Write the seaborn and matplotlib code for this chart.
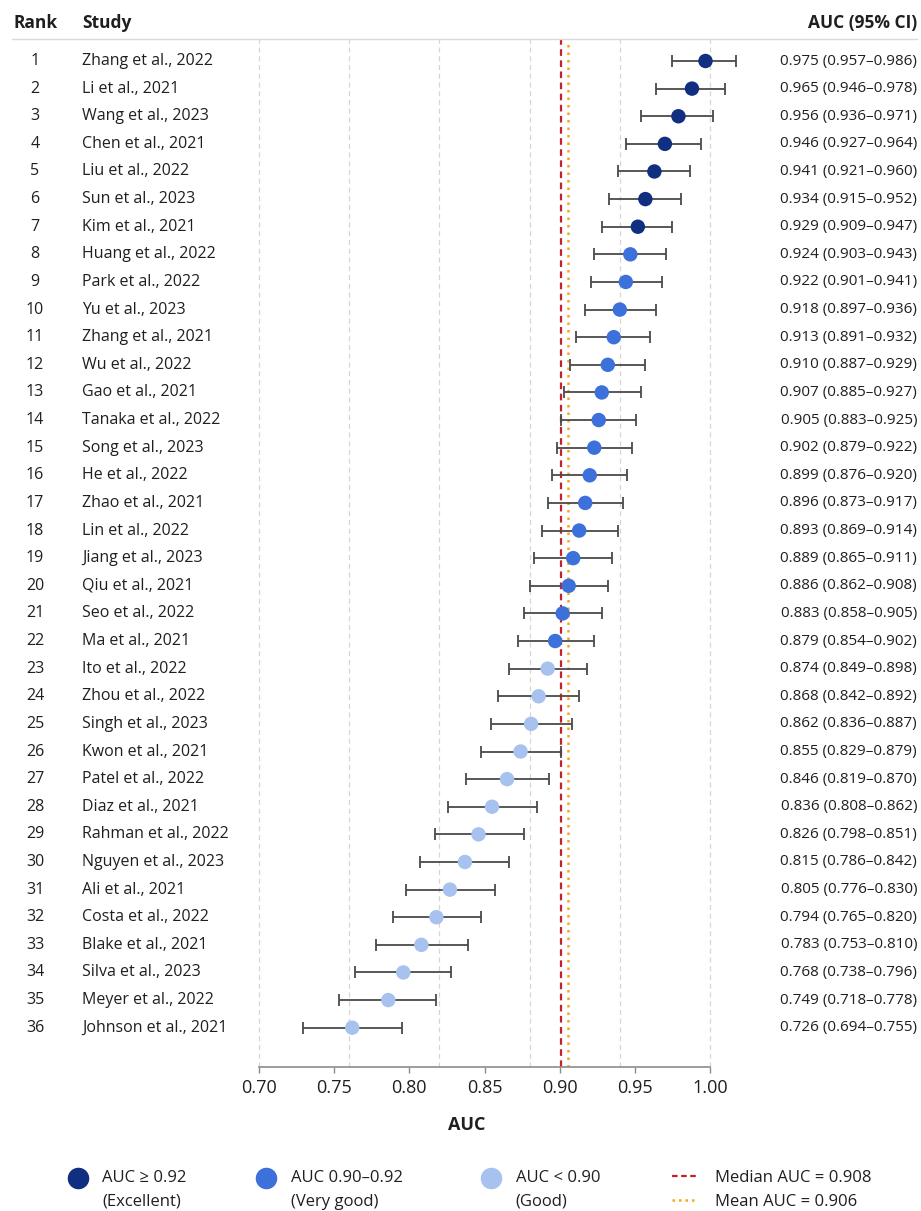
import numpy as np
import pandas as pd
import matplotlib
matplotlib.use("Agg")
import matplotlib.pyplot as plt
import matplotlib.transforms as mtransforms
from matplotlib.lines import Line2D
from matplotlib.legend_handler import HandlerLine2D
import seaborn as sns

# ---------------- data ----------------
studies = ["Zhang et al., 2022", "Li et al., 2021", "Wang et al., 2023", "Chen et al., 2021",
           "Liu et al., 2022", "Sun et al., 2023", "Kim et al., 2021", "Huang et al., 2022",
           "Park et al., 2022", "Yu et al., 2023", "Zhang et al., 2021", "Wu et al., 2022",
           "Gao et al., 2021", "Tanaka et al., 2022", "Song et al., 2023", "He et al., 2022",
           "Zhao et al., 2021", "Lin et al., 2022", "Jiang et al., 2023", "Qiu et al., 2021",
           "Seo et al., 2022", "Ma et al., 2021", "Ito et al., 2022", "Zhou et al., 2022",
           "Singh et al., 2023", "Kwon et al., 2021", "Patel et al., 2022", "Diaz et al., 2021",
           "Rahman et al., 2022", "Nguyen et al., 2023", "Ali et al., 2021", "Costa et al., 2022",
           "Blake et al., 2021", "Silva et al., 2023", "Meyer et al., 2022", "Johnson et al., 2021"]

# printed AUC and 95% CI (right-hand column)
auc = [0.975, 0.965, 0.956, 0.946, 0.941, 0.934, 0.929, 0.924, 0.922, 0.918, 0.913, 0.910,
       0.907, 0.905, 0.902, 0.899, 0.896, 0.893, 0.889, 0.886, 0.883, 0.879, 0.874, 0.868,
       0.862, 0.855, 0.846, 0.836, 0.826, 0.815, 0.805, 0.794, 0.783, 0.768, 0.749, 0.726]
ci_lo = [0.957, 0.946, 0.936, 0.927, 0.921, 0.915, 0.909, 0.903, 0.901, 0.897, 0.891, 0.887,
         0.885, 0.883, 0.879, 0.876, 0.873, 0.869, 0.865, 0.862, 0.858, 0.854, 0.849, 0.842,
         0.836, 0.829, 0.819, 0.808, 0.798, 0.786, 0.776, 0.765, 0.753, 0.738, 0.718, 0.694]
ci_hi = [0.986, 0.978, 0.971, 0.964, 0.960, 0.952, 0.947, 0.943, 0.941, 0.936, 0.932, 0.929,
         0.927, 0.925, 0.922, 0.920, 0.917, 0.914, 0.911, 0.908, 0.905, 0.902, 0.898, 0.892,
         0.887, 0.879, 0.870, 0.862, 0.851, 0.842, 0.830, 0.820, 0.810, 0.796, 0.778, 0.755]

# marker and whisker positions as drawn on the AUC axis
point_drawn = [0.997, 0.988, 0.979, 0.970, 0.963, 0.957, 0.952, 0.947, 0.944, 0.940, 0.936, 0.932,
               0.928, 0.926, 0.923, 0.920, 0.917, 0.913, 0.909, 0.906, 0.902, 0.897, 0.892, 0.886,
               0.881, 0.874, 0.865, 0.855, 0.846, 0.837, 0.827, 0.818, 0.808, 0.796, 0.786, 0.762]
lo_drawn = [0.975, 0.964, 0.954, 0.944, 0.939, 0.933, 0.928, 0.923, 0.921, 0.917, 0.911, 0.907,
            0.903, 0.901, 0.898, 0.895, 0.892, 0.888, 0.883, 0.880, 0.876, 0.872, 0.866, 0.859,
            0.854, 0.848, 0.838, 0.826, 0.817, 0.807, 0.798, 0.789, 0.778, 0.764, 0.753, 0.729]
hi_drawn = [1.017, 1.010, 1.002, 0.994, 0.987, 0.981, 0.975, 0.971, 0.968, 0.964, 0.960, 0.957,
            0.954, 0.951, 0.948, 0.945, 0.942, 0.939, 0.935, 0.932, 0.928, 0.923, 0.918, 0.913,
            0.908, 0.901, 0.893, 0.885, 0.876, 0.866, 0.857, 0.848, 0.839, 0.828, 0.818, 0.795]

tier = ["Excellent"] * 7 + ["Very good"] * 15 + ["Good"] * 14

median_auc = 0.908
mean_auc = 0.906
median_line_drawn = 0.901
mean_line_drawn = 0.9055

tier_labels = {"Excellent": "AUC \u2265 0.92\n(Excellent)",
               "Very good": "AUC 0.90\u20130.92\n(Very good)",
               "Good": "AUC < 0.90\n(Good)"}

# ---------------- styling ----------------
palette = {"Excellent": "#102f80", "Very good": "#3c70da", "Good": "#a7c2ef"}
RED = "#c42228"
ORANGE = "#f5a623"
TXT = "#1f1f1f"

sns.set_theme(style="white")
plt.rcParams["font.family"] = ["Open Sans", "DejaVu Sans"]

W, H = 921, 1211
fig = plt.figure(figsize=(W / 100, H / 100), dpi=100)


def fx(px):
    return px / W


def fy(py):
    return 1 - py / H


class RaisedMarkerHandler(HandlerLine2D):
    """Legend handler that lifts the marker towards the first label line."""

    def __init__(self, dy_points, **kw):
        super().__init__(**kw)
        self.dy_points = dy_points

    def create_artists(self, legend, orig_handle, xdescent, ydescent, width, height,
                       fontsize, trans):
        artists = super().create_artists(legend, orig_handle, xdescent, ydescent, width,
                                         height, fontsize, trans)
        shift = mtransforms.Affine2D().translate(0, self.dy_points)
        for a in artists:
            a.set_transform(shift + trans)
        return artists


ROW0, ROWSTEP = 61.0, 27.62
ax = fig.add_axes([fx(240), fy(1067), fx(760) - fx(240), fy(39) - fy(1067)])

df = pd.DataFrame({"rank": np.arange(1, len(studies) + 1), "study": studies,
                   "auc": auc, "ci_lo": ci_lo, "ci_hi": ci_hi,
                   "point": point_drawn, "lo": lo_drawn, "hi": hi_drawn, "tier": tier})
df["row"] = df["rank"] - 1

# axis scale: 0.70 at x=259px, 1.00 at x=710px
ppu = (710 - 259) / 0.30
ax.set_xlim(0.70 - (259 - 240) / ppu, 1.00 + (760 - 710) / ppu)
ax.set_ylim((1067 - ROW0) / ROWSTEP, (39 - ROW0) / ROWSTEP)

ax.errorbar(df["point"], df["row"], xerr=[df["point"] - df["lo"], df["hi"] - df["point"]],
            fmt="none", ecolor="#4a4a4a", elinewidth=1.3, capsize=4.5, capthick=1.3, zorder=3)
sns.scatterplot(data=df, x="point", y="row", hue="tier", palette=palette, s=108,
                linewidth=0, legend=False, ax=ax, zorder=4)

ax.axvline(median_line_drawn, color=RED, ls=(0, (3, 2)), lw=1.6, zorder=2)
ax.axvline(mean_line_drawn, color=ORANGE, ls=(0, (1, 2)), lw=1.8, zorder=2)

ax.xaxis.remove_overlapping_locs = False
ax.set_xticks(np.arange(0.70, 1.0001, 0.05))
ax.set_xticklabels([f"{v:.2f}" for v in np.arange(0.70, 1.0001, 0.05)])
ax.set_xticks(np.linspace(0.70, 1.00, 6), minor=True)
ax.xaxis.grid(False, which="major")
ax.xaxis.grid(True, which="minor", ls=(0, (4, 3)), color="#d6d6d6", lw=0.9)
ax.tick_params(axis="x", which="major", length=4.5, width=1.0, color="#8c8c8c",
               labelsize=13, pad=4, labelcolor=TXT, direction="out", bottom=True)
ax.tick_params(axis="x", which="minor", length=0)
ax.set_yticks([])
ax.set_xlabel("")
ax.set_ylabel("")
for s in ["top", "left", "right"]:
    ax.spines[s].set_visible(False)
ax.spines["bottom"].set_color("#8c8c8c")
ax.spines["bottom"].set_linewidth(1.2)
ax.spines["bottom"].set_bounds(0.70, 1.00)

# ---------------- table text ----------------
trans = mtransforms.blended_transform_factory(fig.transFigure, ax.transData)
for _, r in df.iterrows():
    ax.text(fx(35), r["row"], str(r["rank"]), transform=trans, ha="center", va="center",
            fontsize=11.5, color=TXT, clip_on=False)
    ax.text(fx(82), r["row"], r["study"], transform=trans, ha="left", va="center",
            fontsize=11.5, color=TXT, clip_on=False)
    ax.text(fx(917), r["row"], f"{r['auc']:.3f} ({r['ci_lo']:.3f}\u2013{r['ci_hi']:.3f})",
            transform=trans, ha="right", va="center", fontsize=11, color=TXT, clip_on=False)

fig.text(fx(13), fy(23), "Rank", weight="bold", fontsize=12.5, va="center", color=TXT)
fig.text(fx(82), fy(23), "Study", weight="bold", fontsize=12.5, va="center", color=TXT)
fig.text(fx(917), fy(23), "AUC (95% CI)", weight="bold", fontsize=12.5, va="center",
         ha="right", color=TXT)
fig.add_artist(Line2D([fx(12), fx(917)], [fy(39), fy(39)], color="#d9d9d9", lw=1.0))

fig.text(fx(467), fy(1125), "AUC", weight="bold", fontsize=13, ha="center", va="center", color=TXT)

# ---------------- legend ----------------
for key, left in zip(["Excellent", "Very good", "Good"], [70, 258, 483]):
    h = Line2D([], [], marker="o", ls="", markersize=14.5, markerfacecolor=palette[key],
               markeredgecolor=palette[key])
    leg = fig.legend([h], [tier_labels[key]], loc="center left", bbox_to_anchor=(fx(left), fy(1190)),
                     frameon=False, fontsize=12, handlelength=1.0, handletextpad=0.95,
                     borderpad=0, borderaxespad=0,
                     handler_map={Line2D: RaisedMarkerHandler(9.0)})
    for t in leg.get_texts():
        t.set_linespacing(1.6)
        t.set_color(TXT)

lh = [Line2D([], [], color=RED, ls=(0, (2.5, 1.6)), lw=1.6),
      Line2D([], [], color=ORANGE, ls=(0, (1, 1.6)), lw=1.8)]
leg2 = fig.legend(lh, [f"Median AUC = {median_auc:.3f}", f"Mean AUC = {mean_auc:.3f}"],
                  loc="center left", bbox_to_anchor=(fx(672), fy(1190)), frameon=False,
                  fontsize=12, handlelength=1.5, handletextpad=1.1, labelspacing=0.5,
                  borderpad=0, borderaxespad=0)
for t in leg2.get_texts():
    t.set_color(TXT)

fig.savefig("out.png", dpi=100)
